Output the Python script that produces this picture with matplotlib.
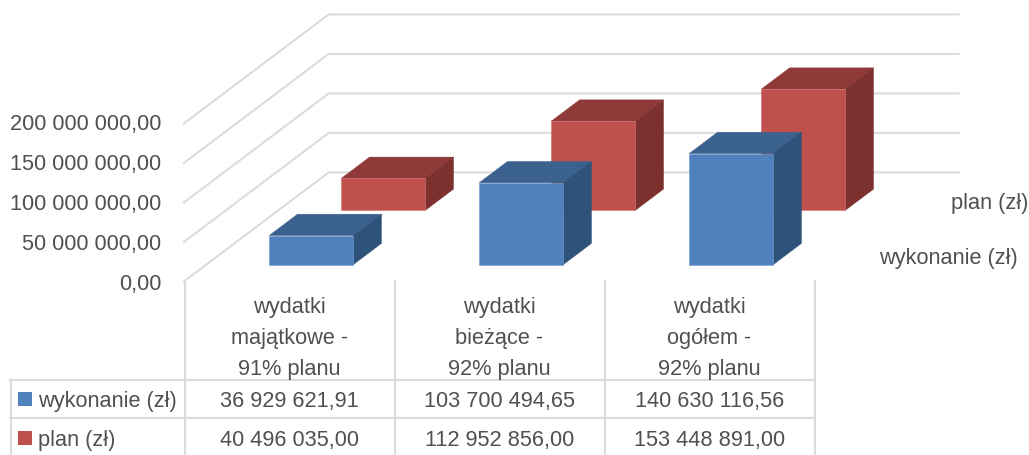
import matplotlib
matplotlib.use("Agg")
import matplotlib.pyplot as plt

plt.rcParams['font.family'] = ['Liberation Sans', 'DejaVu Sans']

# data
categories = ["wydatki\nmajątkowe -\n91% planu", "wydatki\nbieżące -\n92% planu", "wydatki\nogółem -\n92% planu"]
wykonanie = [36929621.91, 103700494.65, 140630116.56]
plan = [40496035.00, 112952856.00, 153448891.00]
ticks = [0, 50000000, 100000000, 150000000, 200000000]
series_names = ["wykonanie (zł)", "plan (zł)"]

W, H = 1029, 456
TEXT = "#505050"
GRID = "#dcdcdc"

# pixel layout
X0, X1 = 184, 814
Y0, Y200 = 282.4, 124.4
DEPTH_X = 144.7 / 210   # wall depth in category units
DEPTH_Y = 109 / (Y0 - Y200) * 200000000   # wall depth in value units


def fmt(v):
    return f"{v:,.2f}".replace(",", " ").replace(".", ",")


def proj(x, v, d):
    # oblique projection: d=0 front of the floor, d=1 back wall
    return x + d * DEPTH_X, v + d * DEPTH_Y


fig = plt.figure(figsize=(W / 100, H / 100), dpi=100)
ax = fig.add_axes([X0 / W, 1 - Y0 / H, (X1 - X0) / W, (Y0 - Y200) / H])
ax.set_xlim(0, 3)
ax.set_ylim(0, 200000000)
ax.axis("off")

# gridlines on the side and back walls
for t in ticks:
    p0 = proj(0, t, 0)
    p1 = proj(0, t, 1)
    p2 = proj(3, t, 1)
    ax.plot([p0[0], p1[0], p2[0]], [p0[1], p1[1], p2[1]], color=GRID, lw=1.5, clip_on=False, zorder=1)


def bar3d(i, value, d0, d1, front, top, side, edge, z):
    x0 = i + 0.3
    x1 = i + 0.7
    b0 = proj(x0, 0, d0)
    b1 = proj(x1, 0, d0)
    t0 = proj(x0, value, d0)
    t1 = proj(x1, value, d0)
    bb1 = proj(x1, 0, d1)
    tb0 = proj(x0, value, d1)
    tb1 = proj(x1, value, d1)
    ax.fill([t0[0], t1[0], tb1[0], tb0[0]], [t0[1], t1[1], tb1[1], tb0[1]], color=top, lw=0.3, clip_on=False, zorder=z)
    ax.fill([b1[0], bb1[0], tb1[0], t1[0]], [b1[1], bb1[1], tb1[1], t1[1]], color=side, lw=0.3, clip_on=False, zorder=z)
    ax.bar(b0[0], value, width=x1 - x0, bottom=b0[1], align="edge", color=front, edgecolor=edge, linewidth=0.4, clip_on=False, zorder=z)


for i in range(3):
    bar3d(i, plan[i], 0.651, 0.847, "#c0504d", "#8f3a38", "#7c312f", "#cb716e", 2 + i * 0.1)
for i in range(3):
    bar3d(i, wykonanie[i], 0.153, 0.349, "#4f81bd", "#3b618f", "#2f527a", "#7099cc", 3 + i * 0.1)

# overlay in pixels for the table and the texts
ov = fig.add_axes([0, 0, 1, 1], zorder=5)
ov.set_xlim(0, W)
ov.set_ylim(H, 0)
ov.axis("off")
ov.patch.set_alpha(0)

FS = 15.7
tick_y = [285, 244.5, 205, 165, 125]
for t, y in zip(ticks, tick_y):
    ov.text(161, y, fmt(t), ha="right", va="center", fontsize=FS, color=TEXT)

# data table
rows_y = [380.5, 419.5]
cols_x = [184.5, 394.5, 604.5, 814.5]
for y in rows_y:
    ov.plot([10, 814.5], [y, y], color=GRID, lw=1.5)
for x in cols_x:
    ov.plot([x, x], [282, 456], color=GRID, lw=1.5)
ov.plot([10.5, 10.5], [380, 456], color=GRID, lw=1.5)

for i in range(3):
    xc = (cols_x[i] + cols_x[i + 1]) / 2
    for line, y in zip(categories[i].split("\n"), [308, 339, 370]):
        ov.text(xc, y, line, ha="center", va="center", fontsize=FS, color=TEXT)
    ov.text(xc, 402, fmt(wykonanie[i]), ha="center", va="center", fontsize=FS, color=TEXT)
    ov.text(xc, 441, fmt(plan[i]), ha="center", va="center", fontsize=FS, color=TEXT)

ov.add_patch(plt.Rectangle((18, 393), 14, 14, color="#4f81bd", lw=0))
ov.add_patch(plt.Rectangle((18, 432), 14, 14, color="#c0504d", lw=0))
ov.text(38, 402, series_names[0], ha="left", va="center", fontsize=FS, color=TEXT)
ov.text(38, 441, series_names[1], ha="left", va="center", fontsize=FS, color=TEXT)

# series names on the depth axis
ov.text(1028, 204, series_names[1], ha="right", va="center", fontsize=FS, color=TEXT)
ov.text(1018, 259, series_names[0], ha="right", va="center", fontsize=FS, color=TEXT)

fig.savefig("out.png", dpi=100)
